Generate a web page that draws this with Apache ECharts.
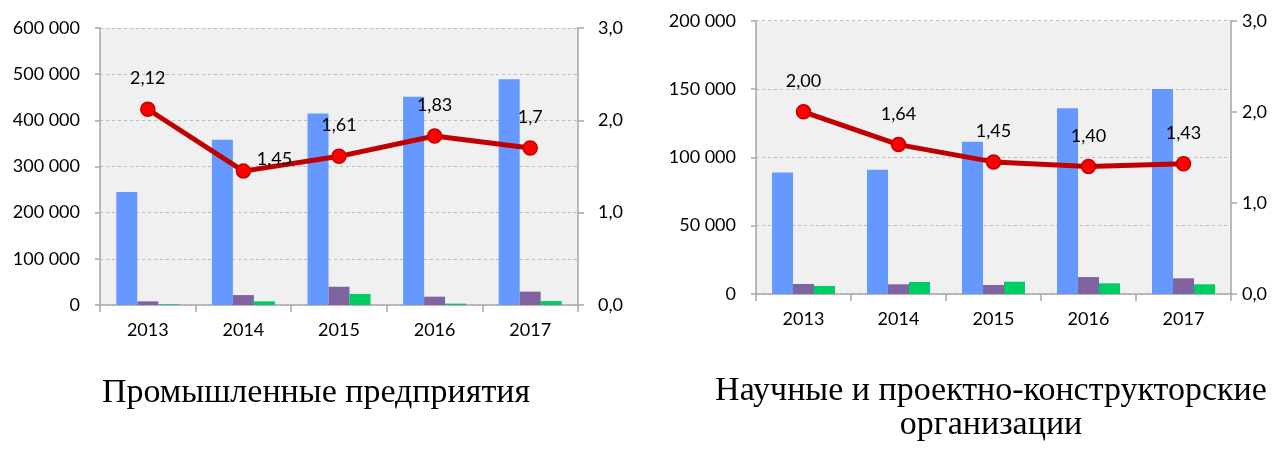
<!DOCTYPE html>
<html>
<head>
<meta charset="utf-8">
<script src="https://cdn.jsdelivr.net/npm/echarts@6/dist/echarts.min.js"></script>
<style>
html,body{margin:0;padding:0;background:#fff;}
#c{width:1281px;height:450px;}
</style>
</head>
<body>
<div id="c"></div>
<script>
// ---- data ----
var years = ['2013', '2014', '2015', '2016', '2017'];
var indBlue = [245000, 358000, 415000, 451000, 489000];
var indPurple = [8000, 21500, 39500, 18000, 29000];
var indGreen = [1500, 8000, 24000, 3000, 8500];
var indRatio = [2.12, 1.45, 1.61, 1.83, 1.7];
var sciBlue = [89000, 91000, 111500, 136000, 150000];
var sciPurple = [7300, 7100, 6600, 12400, 11500];
var sciGreen = [5900, 8800, 9000, 7800, 7100];
var sciRatio = [2.00, 1.64, 1.45, 1.40, 1.43];
var titleLeft = 'Промышленные предприятия';
var titleRight = 'Научные и проектно-конструкторские\nорганизации';

var FONT = 'Lato';
var AXIS_COLOR = '#a6a6a6';
function thousands(v) { return String(v).replace(/\B(?=(\d{3})+(?!\d))/g, ' '); }
function oneDec(v) { return v.toFixed(1).replace('.', ','); }

function yLeft(grid, max, interval) {
  return {
    type: 'value', gridIndex: grid, min: 0, max: max, interval: interval, position: 'left',
    axisLine: { show: true, lineStyle: { color: AXIS_COLOR, width: 1.5 } },
    axisTick: { show: true, length: 5, lineStyle: { color: AXIS_COLOR, width: 1.5 } },
    axisLabel: { margin: 20, color: '#000', fontFamily: FONT, fontSize: 18, formatter: thousands },
    splitLine: { show: true, lineStyle: { color: '#bdbdbd', type: [3, 3], width: 1 } }
  };
}
function yRight(grid, margin) {
  return {
    type: 'value', gridIndex: grid, min: 0, max: 3, interval: 1, position: 'right',
    axisLine: { show: true, lineStyle: { color: AXIS_COLOR, width: 1.5 } },
    axisTick: { show: true, length: 6, lineStyle: { color: AXIS_COLOR, width: 1.5 } },
    axisLabel: { margin: margin, color: '#000', fontFamily: FONT, fontSize: 18, formatter: oneDec },
    splitLine: { show: false }
  };
}
function xAxis(grid) {
  return {
    type: 'category', gridIndex: grid, data: years,
    axisLine: { show: true, lineStyle: { color: AXIS_COLOR, width: 1.5 } },
    axisTick: { show: true, length: 7, lineStyle: { color: AXIS_COLOR, width: 1.5 } },
    axisLabel: { margin: 16, color: '#000', fontFamily: FONT, fontSize: 18 }
  };
}
function bar(xi, yi, data, color) {
  return {
    type: 'bar', xAxisIndex: xi, yAxisIndex: yi, data: data, barWidth: 21, barGap: '0%',
    itemStyle: { color: color }, z: 2
  };
}
function line(xi, yi, data, fmt, special) {
  var d = data.map(function (v, i) {
    var item = { value: v };
    if (special && special[i]) item.label = special[i];
    return item;
  });
  return {
    type: 'line', xAxisIndex: xi, yAxisIndex: yi, data: d, z: 5,
    symbol: 'circle', symbolSize: 14,
    lineStyle: { color: '#c00000', width: 5 },
    itemStyle: { color: '#ff0000', borderColor: '#c00000', borderWidth: 1.5 },
    label: {
      show: true, position: 'top', distance: 14, color: '#000',
      fontFamily: FONT, fontSize: 18,
      formatter: function (p) { return fmt(p.value); }
    }
  };
}

var chart = echarts.init(document.getElementById('c'));
chart.setOption({
  backgroundColor: '#fff',
  animation: false,
  title: [
    { text: titleLeft, left: 316, top: 376, textAlign: 'center', padding: 0,
      textStyle: { fontFamily: 'Liberation Serif', fontSize: 34, fontWeight: 'normal', color: '#000' } },
    { text: titleRight, left: 991, top: 374, textAlign: 'center', padding: 0,
      textStyle: { fontFamily: 'Liberation Serif', fontSize: 34, fontWeight: 'normal', color: '#000', lineHeight: 34 } }
  ],
  grid: [
    { left: 100, right: 703, top: 28, bottom: 145, show: true, backgroundColor: '#f0f0f0', borderWidth: 0 },
    { left: 756, right: 50, top: 20.7, bottom: 156, show: true, backgroundColor: '#f0f0f0', borderWidth: 0 }
  ],
  xAxis: [xAxis(0), xAxis(1)],
  yAxis: [yLeft(0, 600000, 100000), yRight(0, 20), yLeft(1, 200000, 50000), yRight(1, 11)],
  series: [
    bar(0, 0, indBlue, '#6699ff'),
    bar(0, 0, indPurple, '#8064a2'),
    bar(0, 0, indGreen, '#00cc66'),
    line(0, 1, indRatio, function (v) { return String(v).replace('.', ','); },
      { 1: { position: 'top', offset: [31, 19] } }),
    bar(1, 2, sciBlue, '#6699ff'),
    bar(1, 2, sciPurple, '#8064a2'),
    bar(1, 2, sciGreen, '#00cc66'),
    line(1, 3, sciRatio, function (v) { return v.toFixed(2).replace('.', ','); })
  ]
});
</script>
</body>
</html>
